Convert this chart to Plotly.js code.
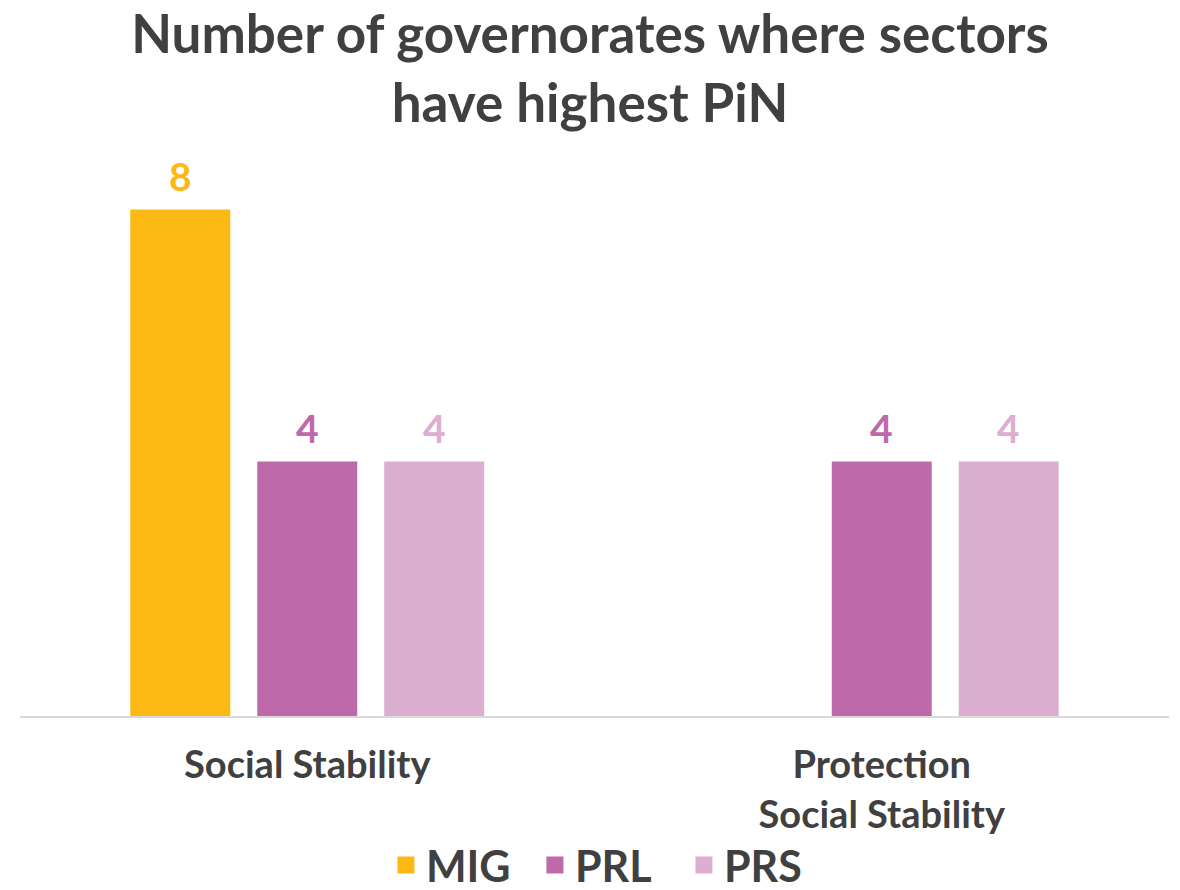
<!DOCTYPE html>
<html>
<head>
<meta charset="utf-8">
<script src="https://cdn.plot.ly/plotly-3.0.1.min.js"></script>
<style>html,body{margin:0;padding:0;background:#fff;}#chart{width:1180px;height:890px;}</style>
</head>
<body>
<div id="chart"></div>
<script>
const categories = ["Social Stability", "Protection<br>Social Stability"];
const seriesNames = ["MIG", "PRL", "PRS"];
const MIG = [8, null];
const PRL = [4, 4];
const PRS = [4, 4];
const colors = ["#FDB913", "#BE69A9", "#DCAFD0"];

const seriesValues = [MIG, PRL, PRS];
const xIdx = categories.map((c, i) => i);
const BARGAP = 0.337;
const FONT = "Lato, 'Open Sans', sans-serif";
const TXT = "#404040";

const traces = seriesValues.map((vals, j) => ({
  type: "bar",
  name: seriesNames[j],
  x: xIdx,
  y: vals,
  marker: { color: colors[j], line: { color: colors[j], width: 5 } },
  hoverinfo: "x+y+name"
}));

const slot = (1 - BARGAP) / seriesValues.length;
const annotations = [];
seriesValues.forEach((vals, j) => {
  vals.forEach((v, i) => {
    if (v === null || v === undefined) return;
    annotations.push({
      x: i + (j - (seriesValues.length - 1) / 2) * slot,
      y: v,
      xref: "x", yref: "y",
      text: String(v),
      showarrow: false,
      yanchor: "bottom",
      yshift: 11,
      font: { family: FONT, size: 39, color: colors[j], weight: "bold" }
    });
  });
});

const layout = {
  width: 1180, height: 890,
  paper_bgcolor: "#fff", plot_bgcolor: "#fff",
  margin: { l: 20, r: 11, t: 140, b: 174, autoexpand: false },
  title: {
    text: "Number of governorates where sectors<br>have highest PiN",
    x: 0.5, xanchor: "center", y: 1 - 53 / 890, yanchor: "middle",
    font: { family: FONT, size: 53, color: TXT, weight: "bold" }
  },
  barmode: "group",
  bargap: BARGAP,
  bargroupgap: 0.252,
  xaxis: {
    type: "linear",
    range: [-0.5, 1.5],
    tickvals: xIdx,
    ticktext: categories,
    showgrid: false, zeroline: false,
    showline: true, linecolor: "#D9D9D9", linewidth: 1.5,
    ticks: "",
    ticklabelstandoff: 15,
    tickfont: { family: FONT, size: 38, color: TXT, weight: "bold" }
  },
  yaxis: {
    range: [0, 576 / 63],
    visible: false, showgrid: false, zeroline: false
  },
  showlegend: true,
  legend: {
    orientation: "h",
    x: 0.513, xanchor: "center",
    y: -(865 - 716) / 576, yanchor: "middle",
    font: { family: FONT, size: 43, color: TXT, weight: "bold" },
    itemwidth: 30,
    entrywidth: 104
  },
  annotations: annotations
};

Plotly.newPlot("chart", traces, layout, { displayModeBar: false, staticPlot: true });
</script>
</body>
</html>
